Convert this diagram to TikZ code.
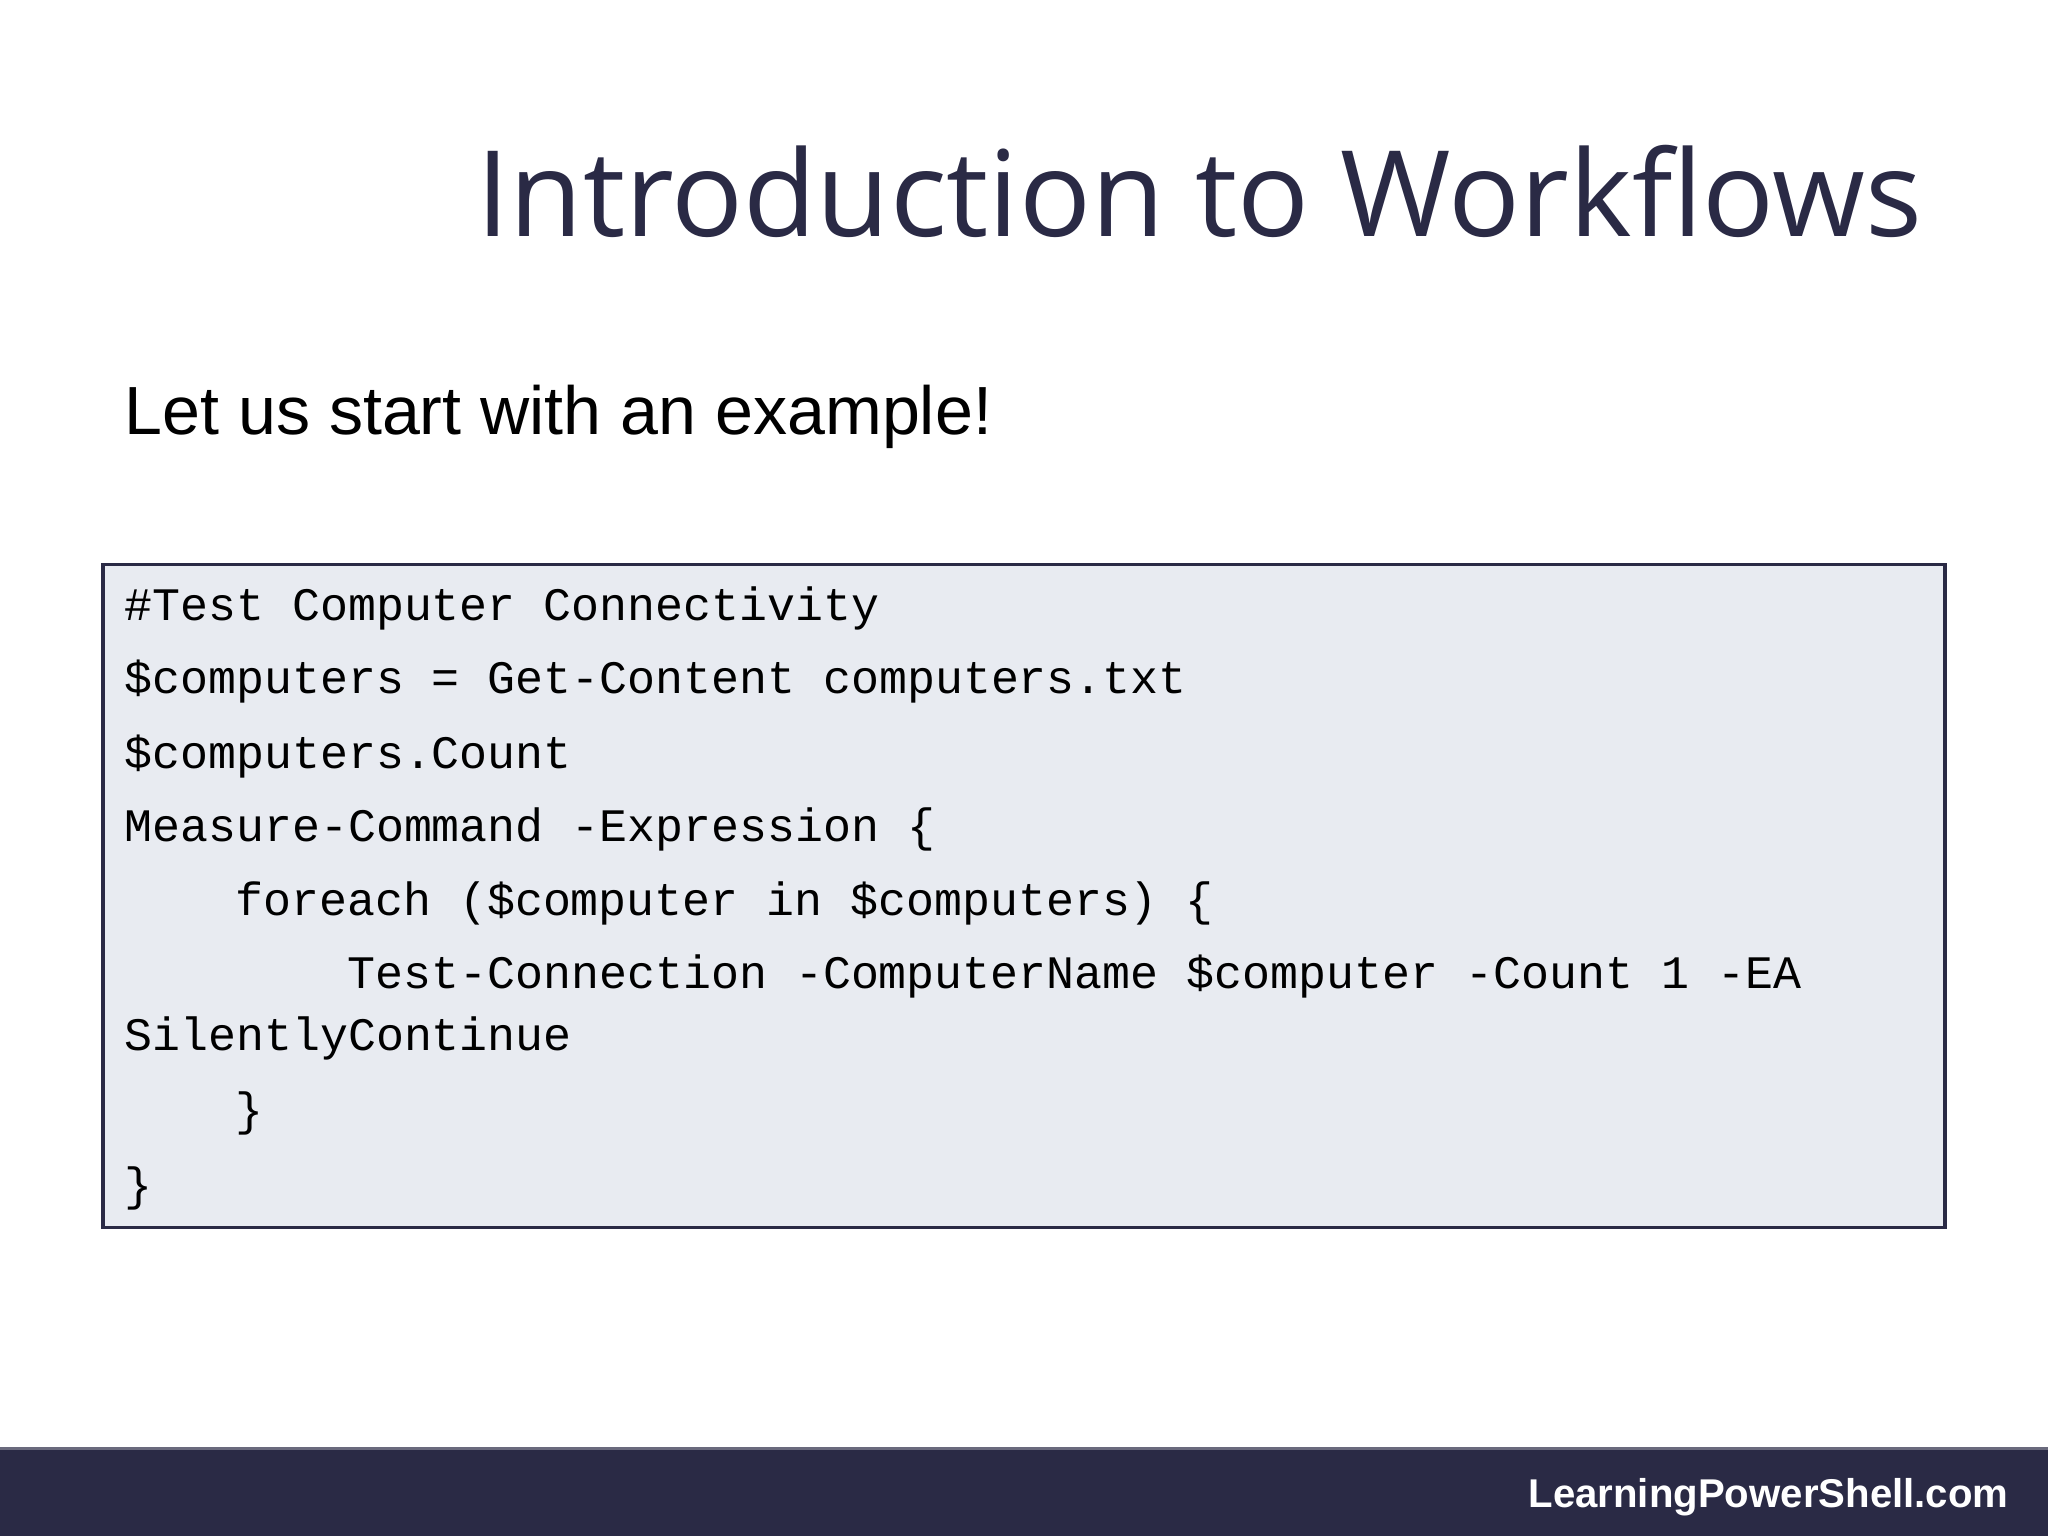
\documentclass[tikz,border=0pt]{standalone}
\usepackage{fontspec}
\setmainfont{Liberation Sans}
\newfontfamily\titlefont{Open Sans}
\newfontfamily\codefont{Liberation Mono}
\definecolor{navy}{HTML}{2A2A45}
\definecolor{codebg}{HTML}{E8EBF1}
\begin{document}
\begin{tikzpicture}[x=0.02cm,y=-0.02cm,
  code/.style={anchor=base west,inner sep=0,font=\codefont\fontsize{20.3pt}{24pt}\selectfont,text=black}]
\useasboundingbox (0,0) rectangle (1568,1176);
\fill[white] (0,0) rectangle (1568,1176);
\node[anchor=base east,inner sep=0,text=navy,font=\titlefont\fontsize{52pt}{60pt}\selectfont] (title) at (1472,181) {Introduction to Workflows};
\node[anchor=base west,inner sep=0,font=\fontsize{29.7pt}{36pt}\selectfont] (sub) at (95,333) {Let us start with an example!};
\draw[navy,line width=1.5pt,fill=codebg] (79,432) rectangle (1489,940);
\node[code] (l1) at (95,475) {\#Test Computer Connectivity};
\node[code] (l2) at (95,531) {\$computers = Get-Content computers.txt};
\node[code] (l3) at (95,588) {\$computers.Count};
\node[code] (l4) at (95,644) {Measure-Command -Expression \{};
\node[code] (l5) at (180,701) {foreach (\$computer in \$computers) \{};
\node[code] (l6) at (266,757) {Test-Connection -ComputerName \$computer -Count 1 -EA};
\node[code] (l7) at (95,804) {SilentlyContinue};
\node[code] (l8) at (180,862) {\}};
\node[code] (l9) at (95,919) {\}};
\fill[navy] (0,1108) rectangle (1568,1176);
\draw[navy!70!white,line width=1.5pt] (0,1109) -- (1568,1109);
\node[anchor=base east,inner sep=0,text=white,font=\bfseries\fontsize{17.5pt}{20pt}\selectfont] (foot) at (1538,1154) {LearningPowerShell.com};
\end{tikzpicture}
\end{document}
